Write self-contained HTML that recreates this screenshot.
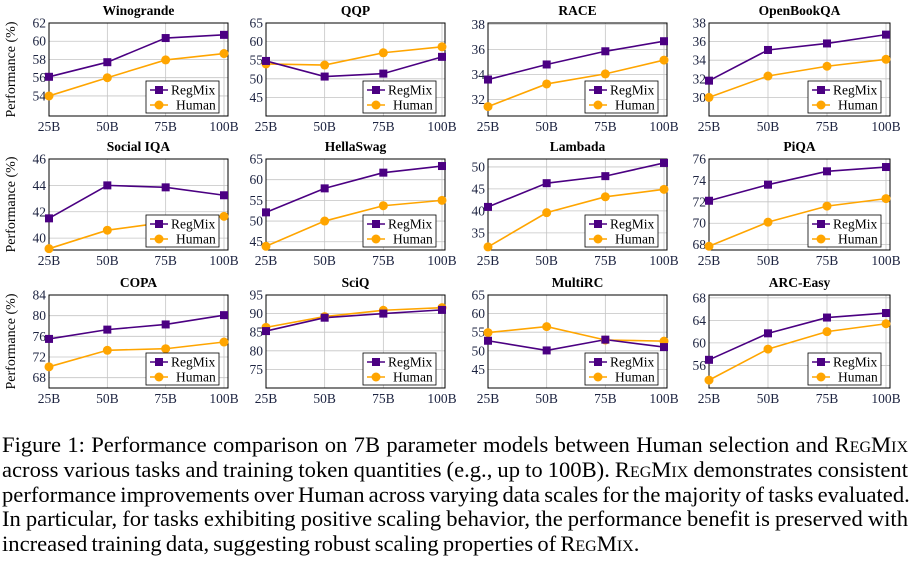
<!DOCTYPE html>
<html><head><meta charset="utf-8"><style>
body{margin:0;background:#fff;width:910px;height:563px;overflow:hidden;font-family:"Liberation Serif",serif}
#cap{position:absolute;left:2px;top:433px;width:906px;font-size:22.6px;line-height:24.8px;color:#000;word-spacing:-1.5px}
#cap div{text-align:justify;text-align-last:justify;white-space:nowrap}
#cap div.last{text-align-last:left}
.sc{font-variant:small-caps}
</style></head><body>
<svg id="chart" width="910" height="425" style="position:absolute;left:0;top:0" font-family="Liberation Serif, serif"></svg>
<div id="cap">
<div>Figure 1: Performance comparison on 7B parameter models between Human selection and <span class="sc">RegMix</span></div>
<div>across various tasks and training token quantities (e.g., up to 100B). <span class="sc">RegMix</span> demonstrates consistent</div>
<div>performance improvements over Human across varying data scales for the majority of tasks evaluated.</div>
<div>In particular, for tasks exhibiting positive scaling behavior, the performance benefit is preserved with</div>
<div class="last">increased training data, suggesting robust scaling properties of <span class="sc">RegMix</span>.</div>
</div>
<script>
const categories=["25B","50B","75B","100B"];
const titles=["Winogrande","QQP","RACE","OpenBookQA","Social IQA","HellaSwag","Lambada","PiQA","COPA","SciQ","MultiRC","ARC-Easy"];
const regmix=[[56.1,57.7,60.35,60.7],[54.8,50.6,51.4,55.9],[33.6,34.8,35.85,36.65],[31.8,35.1,35.8,36.75],
[41.5,44.0,43.85,43.25],[52.1,57.9,61.7,63.3],[40.9,46.3,47.9,50.9],[72.1,73.6,74.85,75.25],
[75.5,77.3,78.3,80.1],[85.3,88.9,90.0,91.0],[52.7,50.1,53.0,51.0],[57.0,61.7,64.5,65.3]];
const human=[[54.0,56.0,57.95,58.65],[54.0,53.7,57.0,58.6],[31.45,33.25,34.05,35.15],[30.0,32.3,33.35,34.1],
[39.2,40.6,41.2,41.65],[43.9,50.0,53.7,55.0],[31.8,39.6,43.2,44.9],[67.85,70.1,71.6,72.3],
[70.1,73.3,73.6,74.9],[86.3,89.2,90.9,91.6],[54.9,56.5,52.9,52.6],[53.4,58.9,62.0,63.4]];
const yticks=[[54,56,58,60,62],[45,50,55,60,65],[32,34,36,38],[30,32,34,36,38],
[40,42,44,46],[45,50,55,60,65],[35,40,45,50],[68,70,72,74,76],
[68,72,76,80,84],[75,80,85,90,95],[45,50,55,60,65],[56,60,64,68]];
const ydom=[[51.8,62],[40,65],[30.7,38.1],[28,38],[39.1,46],[43,65],[31.1,51.8],[67.5,76],[66,84],[70,95],[40,65],[52,68.5]];
const cols=[[49,228,224],[266,445,442],[488,667,664],[709,890,886]];
const rows=[[23,116],[159,250],[295,388]];
const NS="http://www.w3.org/2000/svg";
const svg=document.getElementById('chart');
function mk(t,a,p){const e=document.createElementNS(NS,t);for(const k in a)e.setAttribute(k,a[k]);(p||svg).appendChild(e);return e;}
for(let i=0;i<12;i++){
  const r=Math.floor(i/4),c=i%4;
  const [L,R,X100]=cols[c],[T,B]=rows[r];
  const g=mk('g',{});
  
  
  const [y0,y1]=ydom[i];
  const ys=v=>B-(v-y0)/(y1-y0)*(B-T);
  const xs=j=>L+j*(X100-L)/(categories.length-1);
  categories.forEach((cat,j)=>{
    mk('line',{x1:xs(j),x2:xs(j),y1:T,y2:B,stroke:'#c4c4c4','stroke-width':0.8},g);
    const t=mk('text',{x:xs(j),y:B+15,'text-anchor':'middle','font-size':13.5,fill:'#1c2340'},g);
    t.textContent=cat;
    
    
  });
  yticks[i].forEach(v=>{
    const y=ys(v);
    mk('line',{x1:L,x2:R,y1:y,y2:y,stroke:'#c4c4c4','stroke-width':0.8},g);
    const t=mk('text',{x:L-3,y:y+4.5,'text-anchor':'end','font-size':13.5,fill:'#1c2340'},g);
    t.textContent=v;
    
    
  });
  mk('rect',{x:L,y:T,width:R-L,height:B-T,fill:'none',stroke:'#000','stroke-width':1},g);
  const tt=mk('text',{x:(L+R)/2,y:T-8,'text-anchor':'middle','font-size':13.5,'font-weight':'bold'},g);
  tt.textContent=titles[i];
  
  
  const hp=human[i].map((v,j)=>xs(j)+','+ys(v)).join(' ');
  const hl=mk('polyline',{points:hp,fill:'none',stroke:'#ffa500','stroke-width':1.6},g);
  
  
  const rp=regmix[i].map((v,j)=>xs(j)+','+ys(v)).join(' ');
  const rl=mk('polyline',{points:rp,fill:'none',stroke:'#4b0082','stroke-width':1.6},g);
  
  
  human[i].forEach((v,j)=>{const m=mk('circle',{cx:xs(j),cy:ys(v),r:4.5,fill:'#ffa500'},g);
    
    });
  regmix[i].forEach((v,j)=>{const m=mk('rect',{x:xs(j)-4,y:ys(v)-4,width:8,height:8,fill:'#4b0082'},g);
    
    });
  const lg=mk('g',{},g);
  
  
  const lx=R-82,ly=B-35;
  mk('rect',{x:lx,y:ly,width:73,height:32,fill:'#fff',stroke:'#000','stroke-width':0.8},lg);
  mk('line',{x1:lx+4,x2:lx+22,y1:ly+9,y2:ly+9,stroke:'#4b0082','stroke-width':1.6},lg);
  mk('rect',{x:lx+9,y:ly+5,width:8,height:8,fill:'#4b0082'},lg);
  const t1=mk('text',{x:lx+25,y:ly+13.5,'font-size':13.5},lg);t1.textContent='RegMix';
  mk('line',{x1:lx+4,x2:lx+22,y1:ly+24,y2:ly+24,stroke:'#ffa500','stroke-width':1.6},lg);
  mk('circle',{cx:lx+13,cy:ly+24,r:4.5,fill:'#ffa500'},lg);
  const t2=mk('text',{x:lx+30,y:ly+28.5,'font-size':13.5},lg);t2.textContent='Human';
}
rows.forEach(([T,B])=>{
  const cy=(T+B)/2;
  const t=mk('text',{x:0,y:0,transform:`translate(15,${cy}) rotate(-90)`,'text-anchor':'middle','font-size':14},svg);
  t.textContent='Performance (%)';
  
  
});
</script>
</body></html>
